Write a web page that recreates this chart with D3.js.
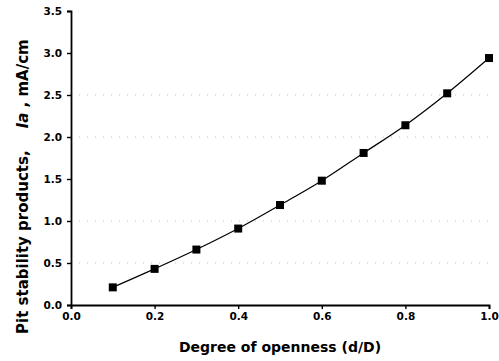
<!DOCTYPE html>
<html><head><meta charset="utf-8">
<script src="https://cdn.jsdelivr.net/npm/d3@7"></script>
<style>body{margin:0;background:#fff}svg{display:block}text{font-family:"DejaVu Sans",sans-serif;font-weight:bold;fill:#000}</style>
</head><body>
<script>
const openness = [0.1,0.2,0.3,0.4,0.5,0.6,0.7,0.8,0.9,1.0];
const pitStability = [0.21,0.43,0.66,0.91,1.19,1.48,1.81,2.14,2.52,2.94];
const xTicks = [0,0.2,0.4,0.6,0.8,1.0];
const yTicks = [0,0.5,1.0,1.5,2.0,2.5,3.0,3.5];
const gridValues = [0.5,1.0,2.0,2.5];

const W=499,H=361;
const svg=d3.select("body").append("svg").attr("width",W).attr("height",H);
const x=d3.scaleLinear().domain([0,1]).range([71,489]);
const y=d3.scaleLinear().domain([0,3.5]).range([305,11]);
const FF="'DejaVu Sans',sans-serif";

svg.append("g").selectAll("line").data(gridValues).join("line")
  .attr("x1",x(0)).attr("x2",x(1)).attr("y1",d=>y(d)).attr("y2",d=>y(d))
  .attr("stroke","#b5b5b5").attr("stroke-width",0.8).attr("stroke-dasharray","1,7");

const yAx=svg.append("g").attr("transform",`translate(${x(0)},0)`);
yAx.call(d3.axisLeft(y).tickValues(d3.range(0.25,3.5,0.5)).tickSize(-3).tickFormat(""));
yAx.call(d3.axisLeft(y).tickValues(yTicks).tickSize(4).tickFormat(d3.format(".1f")));
yAx.selectAll("text").attr("font-size",10.5).attr("dx",-2);
const xAx=svg.append("g").attr("transform",`translate(0,${y(0)})`);
xAx.call(d3.axisBottom(x).tickValues(d3.range(0.1,1.0,0.2)).tickSize(-3).tickFormat(""));
xAx.call(d3.axisBottom(x).tickValues(xTicks).tickSize(4).tickFormat(d3.format(".1f")));
xAx.selectAll("text").attr("font-size",10.5).attr("dy","0.75em");
svg.selectAll(".domain").attr("stroke","#000").attr("stroke-width",1.8);
svg.selectAll(".tick line").attr("stroke","#000").attr("stroke-width",1.4);
svg.selectAll("text").style("font-family",FF).style("font-weight","bold");

const pts=openness.map((d,i)=>[d,pitStability[i]]);
svg.append("path").datum(pts)
  .attr("d",d3.line().x(d=>x(d[0])).y(d=>y(d[1])).curve(d3.curveMonotoneX))
  .attr("fill","none").attr("stroke","#000").attr("stroke-width",1.2);
svg.append("g").selectAll("rect").data(pts).join("rect")
  .attr("x",d=>x(d[0])-4).attr("y",d=>y(d[1])-4).attr("width",8).attr("height",8).attr("fill","#000");

svg.append("text").attr("x",280).attr("y",352).attr("text-anchor","middle").attr("font-size",14)
  .text("Degree of openness (d/D)");
const yl=svg.append("text").attr("transform","translate(28,334) rotate(-90)").attr("text-anchor","start").attr("font-size",15);
yl.append("tspan").text("Pit stability products,");
yl.append("tspan").attr("dx",22).attr("font-style","italic").text("Ia");
yl.append("tspan").text(" , mA/cm");
</script>
</body></html>
